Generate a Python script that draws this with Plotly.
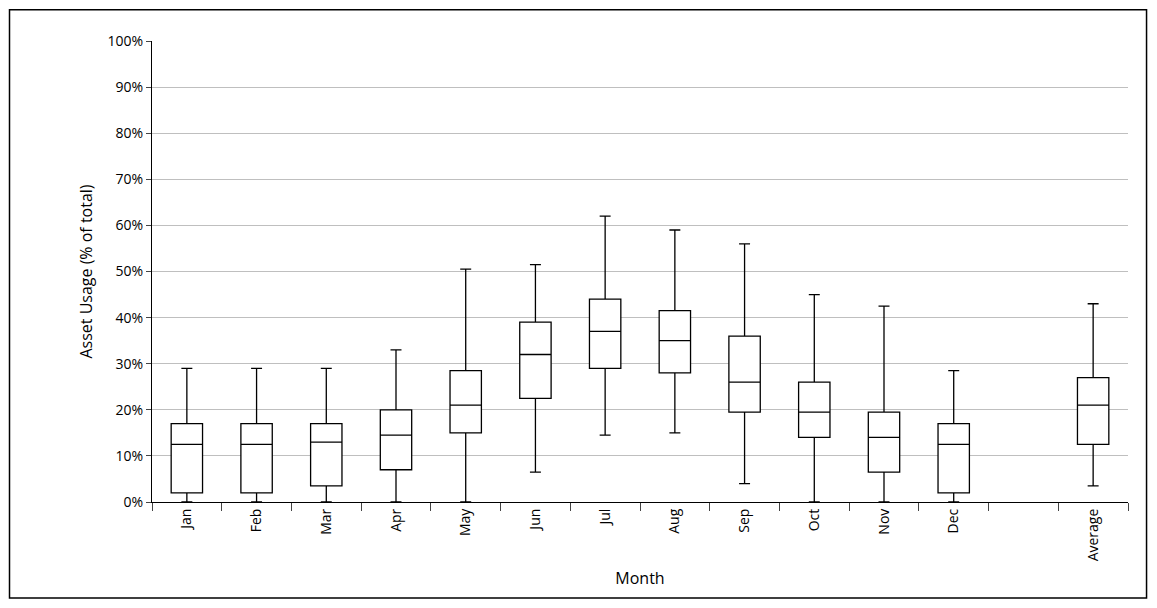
import plotly.graph_objects as go

months = ['Jan', 'Feb', 'Mar', 'Apr', 'May', 'Jun', 'Jul', 'Aug', 'Sep', 'Oct', 'Nov', 'Dec', 'Average']
low = [0, 0, 0, 0, 0, 6.5, 14.5, 15, 4, 0, 0, 0, 3.5]
q1 = [2, 2, 3.5, 7, 15, 22.5, 29, 28, 19.5, 14, 6.5, 2, 12.5]
med = [12.5, 12.5, 13, 14.5, 21, 32, 37, 35, 26, 19.5, 14, 12.5, 21]
q3 = [17, 17, 17, 20, 28.5, 39, 44, 41.5, 36, 26, 19.5, 17, 27]
high = [29, 29, 29, 33, 50.5, 51.5, 62, 59, 56, 45, 42.5, 28.5, 43]

cats = months[:12] + [' '] + ['Average']

fig = go.Figure()
fig.add_trace(go.Box(
    x=months, q1=q1, median=med, q3=q3, lowerfence=low, upperfence=high,
    fillcolor='white', line=dict(color='black', width=1.3),
    whiskerwidth=0.35, width=0.45, boxpoints=False, showlegend=False,
))

fig.update_layout(
    width=1141, height=592,
    paper_bgcolor='white', plot_bgcolor='white',
    margin=dict(l=144, r=21, t=33, b=98),
    font=dict(family='Open Sans, Arial', size=14, color='black'),
    xaxis=dict(
        type='category', categoryorder='array', categoryarray=cats, automargin=False,
        range=[-0.5, 13.5], tickangle=-90, ticks='outside', tickson='boundaries',
        ticklen=8, showline=True, linecolor='black', linewidth=1.2, showgrid=False,
        title=dict(text='Month', font=dict(size=16), standoff=12),
    ),
    yaxis=dict(
        range=[0, 100], dtick=10, ticksuffix='%', showgrid=True, gridcolor='#bfbfbf',
        showline=True, linecolor='black', linewidth=1.2, ticks='outside', ticklen=5,
        automargin=False, zeroline=False,
        title=dict(text='Asset Usage (% of total)', font=dict(size=16), standoff=10),
    ),
    shapes=[dict(type='rect', xref='paper', yref='paper', x0=-0.146, x1=1.019, y0=-0.208, y1=1.068,
                 line=dict(color='black', width=1.5))],
)

fig.write_html('out.html')
